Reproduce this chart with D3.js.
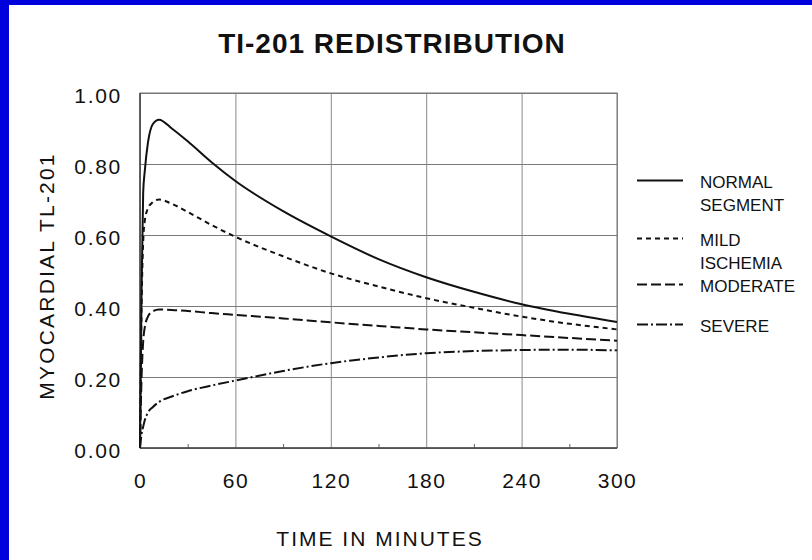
<!DOCTYPE html>
<html>
<head>
<meta charset="utf-8">
<script src="https://cdn.jsdelivr.net/npm/d3@7"></script>
<style>
  body { margin: 0; background: #fff; }
  text { font-family: "Liberation Sans", Arial, sans-serif; fill: #111; }
</style>
</head>
<body>
<div id="chart"></div>
<script>
// time points (minutes) shared by all curves
const times = [0, 1, 2, 3, 5, 8, 12, 20, 30, 45, 60, 90, 120, 150, 180, 210, 240, 270, 300];
const normalSeg = [0, 0.45, 0.72, 0.78, 0.86, 0.912, 0.925, 0.9, 0.864, 0.805, 0.752, 0.667, 0.596, 0.532, 0.481, 0.44, 0.405, 0.378, 0.355];
const mildIsch  = [0, 0.4, 0.58, 0.64, 0.675, 0.692, 0.7, 0.688, 0.665, 0.628, 0.595, 0.54, 0.492, 0.455, 0.422, 0.395, 0.37, 0.35, 0.334];
const moderate  = [0, 0.2, 0.3, 0.34, 0.37, 0.385, 0.39, 0.389, 0.386, 0.38, 0.375, 0.365, 0.354, 0.344, 0.334, 0.326, 0.318, 0.31, 0.302];
const severe    = [0, 0.04, 0.06, 0.078, 0.1, 0.115, 0.13, 0.145, 0.16, 0.176, 0.19, 0.217, 0.239, 0.255, 0.267, 0.273, 0.276, 0.277, 0.275];
const seriesNames = [["NORMAL", "SEGMENT"], ["MILD", "ISCHEMIA"], ["MODERATE"], ["SEVERE"]];
const xTicks = [0, 60, 120, 180, 240, 300];
const xMinor = [30, 90, 150, 210, 270];
const yTicks = [0, 0.2, 0.4, 0.6, 0.8, 1.0];

const W = 812, H = 560;
const pLeft = 140, pRight = 617, pTop = 93, pBottom = 448;

const svg = d3.select('#chart').append('svg')
  .attr('width', W).attr('height', H);

svg.append('rect').attr('width', W).attr('height', H).attr('fill', '#fff');
// blue slide frame
svg.append('rect').attr('width', 9).attr('height', H).attr('fill', '#0000dc');
svg.append('rect').attr('width', W).attr('height', 5).attr('fill', '#0000dc');

const x = d3.scaleLinear().domain([0, 300]).range([pLeft, pRight]);
const y = d3.scaleLinear().domain([0, 1]).range([pBottom, pTop]);

// grid lines
svg.append('g')
   .attr('transform', `translate(0, ${pBottom})`)
   .call(d3.axisBottom(x).tickValues(xTicks).tickSize(-(pBottom - pTop)).tickFormat(''))
   .call(g => g.select('.domain').remove())
   .call(g => g.selectAll('line').attr('stroke', '#8a8a8a').attr('stroke-width', 1));
svg.append('g')
   .attr('transform', `translate(${pLeft}, 0)`)
   .call(d3.axisLeft(y).tickValues(yTicks).tickSize(-(pRight - pLeft)).tickFormat(''))
   .call(g => g.select('.domain').remove())
   .call(g => g.selectAll('line').attr('stroke', '#7a7a7a').attr('stroke-width', 1));

// small ticks on the time axis
svg.append('g')
   .attr('transform', `translate(0, ${pBottom})`)
   .call(d3.axisBottom(x).tickValues(xMinor).tickSize(-4).tickFormat(''))
   .call(g => g.select('.domain').remove())
   .call(g => g.selectAll('line').attr('stroke', '#666'));

// frame
svg.append('rect')
   .attr('x', pLeft).attr('y', pTop)
   .attr('width', pRight - pLeft).attr('height', pBottom - pTop)
   .attr('fill', 'none').attr('stroke', '#777').attr('stroke-width', 1);
svg.append('line').attr('x1', pLeft).attr('x2', pRight).attr('y1', pBottom).attr('y2', pBottom)
   .attr('stroke', '#444').attr('stroke-width', 1.5);
svg.append('line').attr('x1', pLeft).attr('x2', pLeft).attr('y1', pTop).attr('y2', pBottom)
   .attr('stroke', '#444').attr('stroke-width', 1.5);

// tick labels
svg.append('g')
   .attr('transform', `translate(0, ${pBottom})`)
   .call(d3.axisBottom(x).tickValues(xTicks).tickSize(0).tickPadding(25))
   .call(g => g.select('.domain').remove())
   .call(g => g.selectAll('text')
      .style('font-family', '"Liberation Sans", Arial, sans-serif')
      .attr('font-size', 21).attr('letter-spacing', 1.5).attr('fill', '#111'));
svg.append('g')
   .attr('transform', `translate(${pLeft}, 2.5)`)
   .call(d3.axisLeft(y).tickValues(yTicks).tickSize(0).tickPadding(18).tickFormat(d3.format('.2f')))
   .call(g => g.select('.domain').remove())
   .call(g => g.selectAll('text')
      .style('font-family', '"Liberation Sans", Arial, sans-serif')
      .attr('font-size', 21).attr('letter-spacing', 1.7).attr('fill', '#111'));

// curves
const dashes = [null, '5,4', '10,4', '11,3,2,3'];
const allSeries = [normalSeg, mildIsch, moderate, severe];
const line = d3.line()
  .x((d, i) => x(times[i]))
  .y(d => y(d))
  .curve(d3.curveMonotoneX);

svg.selectAll('path.curve')
   .data(allSeries).enter()
   .append('path')
   .attr('class', 'curve')
   .attr('d', line)
   .attr('fill', 'none')
   .attr('stroke', '#111')
   .attr('stroke-width', 2)
   .attr('stroke-dasharray', (d, i) => dashes[i]);

// titles
svg.append('text')
   .attr('x', 392).attr('y', 53)
   .attr('text-anchor', 'middle')
   .attr('font-size', 28).attr('font-weight', 'bold').attr('letter-spacing', 1)
   .text('TI-201 REDISTRIBUTION');
svg.append('text')
   .attr('x', 380).attr('y', 546)
   .attr('text-anchor', 'middle')
   .attr('font-size', 21).attr('letter-spacing', 2)
   .text('TIME IN MINUTES');
svg.append('text')
   .attr('transform', 'translate(54, 276) rotate(-90)')
   .attr('text-anchor', 'middle')
   .attr('font-size', 21).attr('letter-spacing', 2.2)
   .text('MYOCARDIAL TL-201');

// legend
const legendY = [188, 246, 292, 332];
const legend = svg.selectAll('g.leg')
   .data(seriesNames).enter()
   .append('g')
   .attr('class', 'leg')
   .attr('transform', (d, i) => `translate(637, ${legendY[i]})`);
legend.append('line')
   .attr('x1', 0).attr('x2', 46).attr('y1', -7.5).attr('y2', -7.5)
   .attr('stroke', '#111').attr('stroke-width', 2)
   .attr('stroke-dasharray', (d, i) => dashes[i]);
legend.each(function(d) {
  const g = d3.select(this);
  d.forEach((s, j) => {
    g.append('text')
     .attr('x', 63).attr('y', j * 23)
     .attr('font-size', 17)
     .text(s);
  });
});
</script>
</body>
</html>
